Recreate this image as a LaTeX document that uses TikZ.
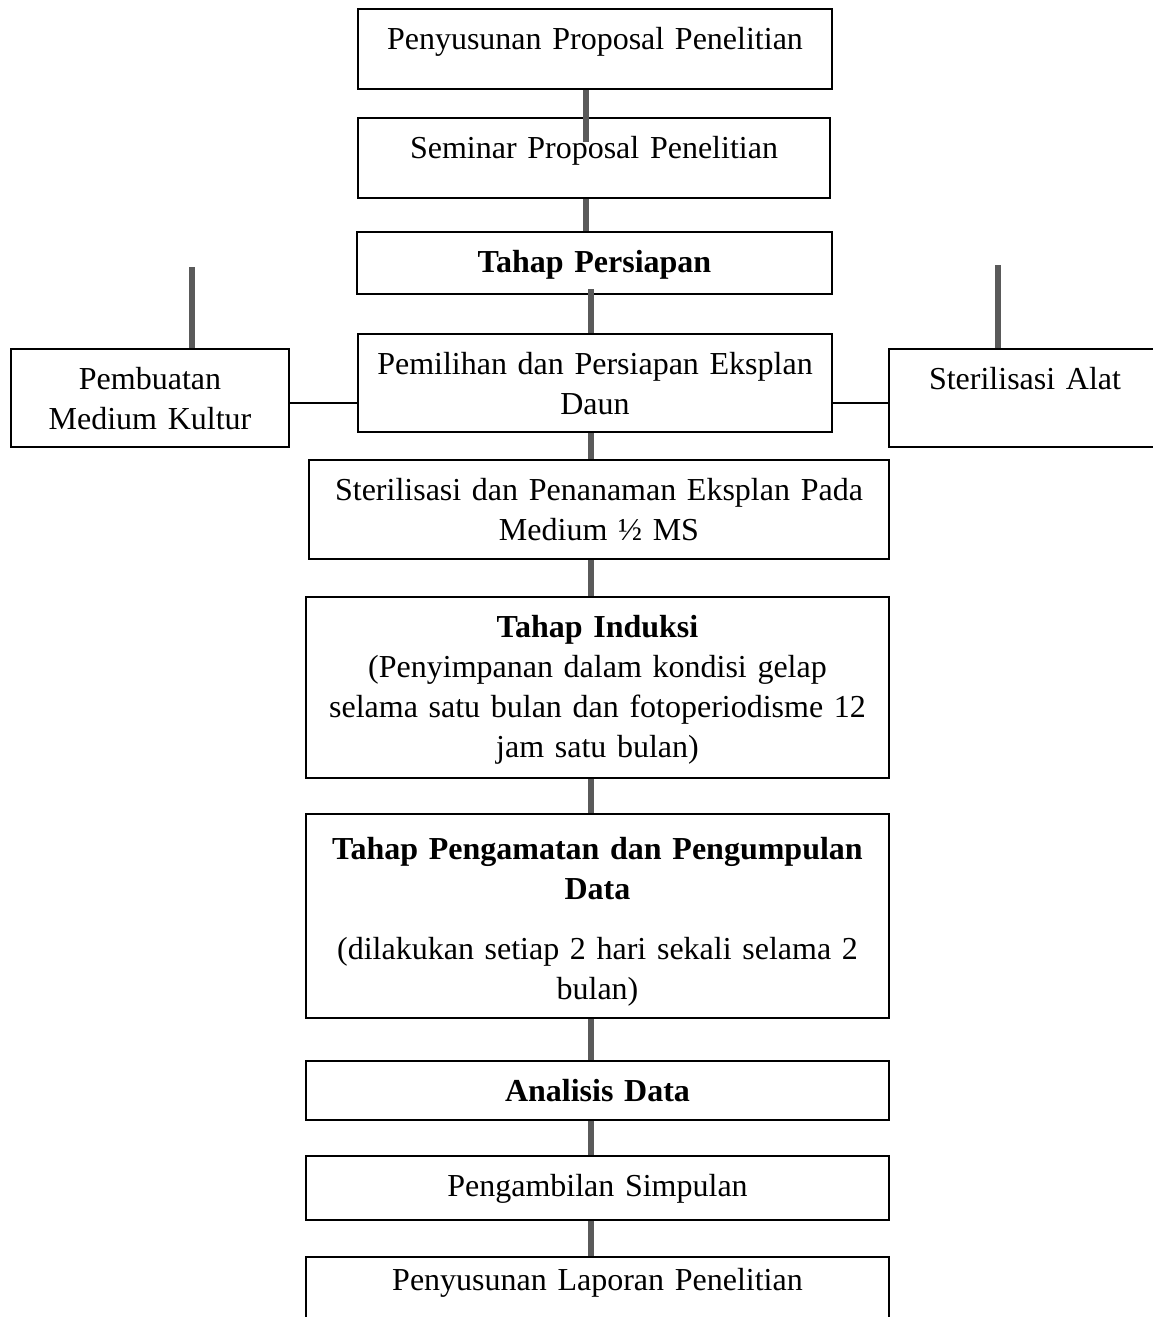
\documentclass[tikz,border=0pt]{standalone}
\usepackage{fontspec}
\setmainfont{Liberation Serif}

\begin{document}
\begin{tikzpicture}[x=0.5pt,y=-0.5pt]
\tikzstyle{stage} = [draw, line width=1pt, anchor=north west, align=center, inner xsep=3pt, inner ysep=0pt, text height=20pt, font=\fontsize{16pt}{20pt}\selectfont]
\tikzstyle{link} = [line width=3pt, color={rgb,255:red,90;green,90;blue,90}]
\tikzstyle{side link} = [line width=0.75pt]

\useasboundingbox (0,0) rectangle (1152,1317);

\coordinate (upper) at (586,0);
\coordinate (lower) at (591,0);
\coordinate (side) at (0,403);
\coordinate (medtop) at (192,267);
\coordinate (alattop) at (998,265);

\node[stage, text width=231pt, text depth=20pt] (prop) at (357,8) {Penyusunan Proposal Penelitian};
\node[stage, text width=230pt, text depth=20pt] (sem) at (357,117) {Seminar Proposal Penelitian};
\node[stage, text width=231.5pt, text depth=11pt] (prep) at (356,231) {\textbf{Tahap Persiapan}};
\node[stage, text width=231pt, text depth=29pt] (pilih) at (357,333) {Pemilihan dan Persiapan Eksplan\\Daun};

\node[stage, text width=133pt, text depth=29pt] (medium) at (10,348) {Pembuatan\\Medium Kultur};
\node[stage, text width=130pt, text depth=29pt] (alat) at (888,348) {Sterilisasi Alat};

\node[stage, text width=284pt, text depth=29.5pt] (steril) at (308,459) {Sterilisasi dan Penanaman Eksplan Pada\\Medium ½ MS};
\node[stage, text width=285.5pt, text depth=70.5pt] (induksi) at (305,596) {\textbf{Tahap Induksi}\\(Penyimpanan dalam kondisi gelap\\selama satu bulan dan fotoperiodisme 12\\jam satu bulan)};
\node[stage, text width=285.5pt, text height=22.5pt, text depth=79.5pt] (amat) at (305,813) {\textbf{Tahap Pengamatan dan Pengumpulan}\\\textbf{Data}\\[10pt](dilakukan setiap 2 hari sekali selama 2\\bulan)};
\node[stage, text width=285.5pt, text depth=9.5pt] (analisis) at (305,1060) {\textbf{Analisis Data}};
\node[stage, text width=285.5pt, text depth=12pt] (simpul) at (305,1155) {Pengambilan Simpulan};
\node[stage, text width=285.5pt, text height=16.5pt, text depth=25.5pt] (lapor) at (305,1256) {Penyusunan Laporan Penelitian};

% main line
\draw[link] (prop.south -| upper) -- ++(0,52);
\draw[link] (sem.south -| upper) -- (prep.north -| upper);
\draw[link] (prep.south -| lower) ++(0,-6) -- (pilih.north -| lower);
\draw[link] (pilih.south -| lower) -- (steril.north -| lower);
\draw[link] (steril.south -| lower) -- (induksi.north -| lower);
\draw[link] (induksi.south -| lower) -- (amat.north -| lower);
\draw[link] (amat.south -| lower) -- (analisis.north -| lower);
\draw[link] (analisis.south -| lower) -- (simpul.north -| lower);
\draw[link] (simpul.south -| lower) -- (lapor.north -| lower);

% side branches
\draw[link] (medtop) -- (medtop |- medium.north);
\draw[link] (alattop) -- (alattop |- alat.north);
\draw[side link] (medium.east |- side) -- (pilih.west |- side);
\draw[side link] (pilih.east |- side) -- (alat.west |- side);

\end{tikzpicture}
\end{document}
